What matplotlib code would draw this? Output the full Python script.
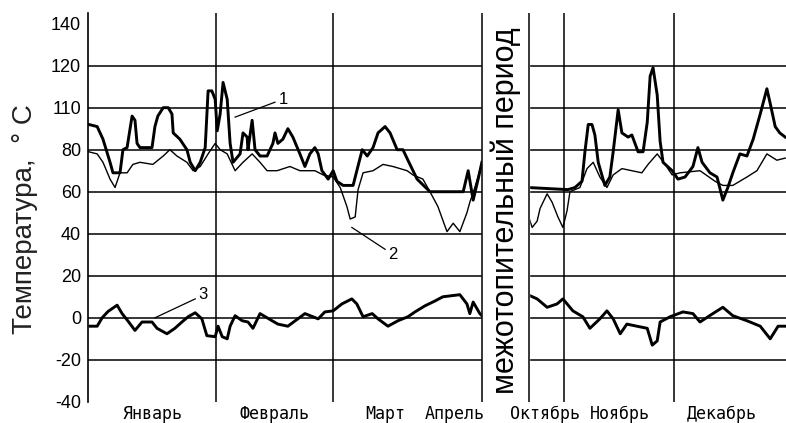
import matplotlib
matplotlib.use("Agg")
import matplotlib.pyplot as plt

# day index along the heating season (0 = start of January), left part Jan-Apr, right part Oct-Dec
s1_left_x = [0.2, 2.2, 3.6, 5.3, 6.0, 7.7, 8.4, 9.4, 10.6, 11.3, 11.8, 12.5, 15.4, 16.1, 16.8, 18.1,
             19.3, 20.2, 20.5, 22.1, 23.8, 24.6, 25.8, 27.0, 28.2, 28.9, 29.8, 30.6, 31.1, 31.8, 32.5,
             33.5, 34.2, 34.9, 36.6, 37.3, 38.3, 38.5, 39.5, 40.2, 41.4, 43.1, 44.5, 45.0, 45.7, 46.9,
             48.1, 49.3, 51.0, 52.2, 53.4, 54.6, 55.4, 56.3, 57.8, 59.0, 59.9, 61.4, 63.8, 64.7, 66.0,
             67.2, 68.6, 69.8, 71.5, 72.7, 74.4, 75.8, 77.0, 79.2, 82.3, 90.3, 91.5, 92.7, 93.9, 94.8]
s1_left_y = [92, 91, 85, 74, 69, 69, 80, 81, 96, 94, 83, 81, 81, 91, 96, 100,
             100, 97, 88, 85, 80, 74, 70, 74, 81, 108, 108, 104, 89, 97, 112,
             104, 83, 74, 78, 88, 86, 80, 94, 80, 77, 77, 83, 88, 83, 85,
             90, 86, 78, 72, 78, 81, 78, 70, 66, 70, 65, 63, 63, 70, 80,
             77, 81, 88, 91, 88, 80, 80, 75, 66, 60, 60, 70, 56, 66, 74]

s1_right_x = [105.9, 115.5, 117.2, 118.9, 119.6, 120.4, 121.3, 122.0, 122.8, 124.4, 125.6, 126.4,
              127.6, 128.5, 130.0, 130.9, 132.4, 133.6, 134.6, 135.3, 136.0, 137.0, 137.7, 138.4,
              140.6, 142.0, 143.7, 145.6, 146.8, 147.8, 149.7, 151.4, 152.8, 154.0, 155.2, 156.9,
              158.6, 160.1, 161.8, 163.4, 164.2, 165.4, 166.5, 167.8]
s1_right_y = [62, 61, 62, 65, 79, 92, 92, 87, 74, 63, 67, 79,
              99, 88, 86, 87, 79, 79, 93, 115, 119, 106, 84, 74,
              70, 66, 67, 72, 81, 74, 69, 67, 56, 62, 69, 78,
              77, 85, 97, 109, 102, 91, 88, 86]

s2_left_x = [0.2, 2.2, 3.6, 5.3, 6.5, 7.7, 9.4, 10.8, 12.5, 15.6, 18.1, 19.7, 21.4, 23.8, 25.3, 27.0,
             28.9, 30.6, 31.8, 33.5, 35.4, 37.3, 39.5, 41.4, 43.1, 45.5, 48.6, 51.0, 54.6, 56.6, 59.0,
             60.7, 62.3, 63.1, 64.3, 65.0, 66.2, 68.6, 71.0, 73.4, 76.8, 78.2, 80.6, 82.3, 84.2, 86.4,
             87.9, 89.5, 91.2, 91.9, 93.1, 94.3, 94.8]
s2_left_y = [79, 78, 74, 66, 62, 69, 69, 73, 74, 73, 77, 80, 77, 74, 70, 72,
             78, 83, 80, 78, 70, 74, 78, 74, 70, 70, 72, 70, 70, 68, 67,
             62, 53, 47, 48, 61, 69, 70, 73, 72, 70, 68, 66, 60, 53, 41,
             45, 41, 50, 55, 62, 70, 74]

s2_right_x = [105.9, 106.9, 108.1, 108.8, 110.5, 111.7, 113.1, 114.3, 115.3, 116.0, 118.4, 120.1,
              121.6, 123.2, 124.9, 126.4, 128.5, 130.9, 133.3, 134.8, 137.0, 138.9, 140.6, 142.5,
              147.3, 150.9, 152.8, 155.2, 158.6, 161.0, 163.4, 165.8, 167.8]
s2_right_y = [49, 43, 46, 52, 59, 55, 48, 43, 51, 60, 62, 71,
              74, 67, 62, 68, 71, 70, 69, 73, 78, 73, 68, 69,
              70, 65, 63, 63, 67, 70, 78, 75, 76]

s3_left_x = [0.5, 2.2, 3.4, 4.8, 7.0, 8.2, 9.6, 11.3, 13.0, 15.4, 16.6, 19.0, 20.9, 22.6, 24.1, 25.8,
             27.4, 28.6, 30.6, 31.3, 32.3, 33.5, 34.2, 35.4, 37.1, 38.5, 39.7, 41.4, 44.3, 45.7, 48.1,
             50.5, 52.2, 55.4, 57.0, 59.0, 61.1, 63.5, 64.7, 66.2, 68.4, 69.8, 72.2, 74.6, 77.0, 78.7,
             81.1, 83.5, 85.4, 89.5, 91.2, 91.9, 92.7, 94.3, 94.8]
s3_left_y = [-4, -4, 0, 3, 6, 2, -1.5, -6, -2, -2, -5, -7.6, -5, -2, 0.5, 2.4,
             -0.5, -8.5, -9, -4, -9, -10, -4, 1, -1.4, -2, -5, 2, -1.4, -3, -4,
             -0.5, 2, -0.5, 2.8, 3.3, 6.6, 9, 6.6, 0.5, 2, -0.5, -4, -1.4, 0.5, 2.8,
             5.7, 8, 10, 11, 6.6, 2, 7.5, 2, 1]

s3_right_x = [106.4, 108.1, 110.5, 112.9, 114.3, 116.7, 119.1, 120.8, 123.2, 124.9, 126.4, 128.1,
              129.7, 132.1, 134.6, 135.8, 137.0, 137.7, 140.1, 143.2, 145.6, 147.3, 150.4, 152.8,
              155.2, 158.6, 161.8, 164.2, 166.1, 167.8]
s3_right_y = [10.5, 9, 5, 6.6, 9, 3.3, 0.5, -5, -0.5, 3.3, -0.5, -7.6,
              -3, -4, -5, -13, -11, -2, 0.5, 2.8, 2, -2, 2, 5,
              1, -1.4, -4, -10, -4, -4]

month_names = ["Январь", "Февраль", "Март", "Апрель", "Октябрь", "Ноябрь", "Декабрь"]
month_pos = [15.4, 45.0, 71.5, 88.3, 110.0, 128.1, 152.6]
month_lines = [30.8, 59.0, 114.5, 141.1]
gap = (94.8, 106.1)

yticks = [-40, -20, 0, 20, 40, 60, 80, 100, 120, 140]
ytick_labels = ["-40", "-20", "0", "20", "40", "60", "80", "110", "120", "140"]

fig = plt.figure(figsize=(7.86, 4.23), dpi=100)
ax = fig.add_axes([0.112, 0.05, 0.888, 0.919])
ax.set_xlim(0, 168)
ax.set_ylim(-40, 145)

for v in [-20, 0, 20, 40, 60, 80, 100, 120]:
    ax.axhline(v, color="black", lw=1.1, zorder=1)
for v in month_lines:
    ax.axvline(v, color="black", lw=1.1, zorder=1)

ax.plot(s2_left_x, s2_left_y, color="black", lw=1.0, zorder=3)
ax.plot(s2_right_x, s2_right_y, color="black", lw=1.0, zorder=3)
ax.plot(s1_left_x, s1_left_y, color="black", lw=2.1, zorder=4)
ax.plot(s1_right_x, s1_right_y, color="black", lw=2.1, zorder=4)
ax.plot(s3_left_x, s3_left_y, color="black", lw=2.1, zorder=4)
ax.plot(s3_right_x, s3_right_y, color="black", lw=2.1, zorder=4)

# inter-heating gap
ax.axvspan(gap[0], gap[1], color="white", zorder=5)
for v in gap:
    ax.axvline(v, color="black", lw=1.1, zorder=6)
ax.text(sum(gap) / 2, 51, "межотопительный период", rotation=90, ha="center", va="center",
        fontsize=22, family="Liberation Sans", zorder=7)

# series labels
ax.plot([35.4, 45.0], [95.5, 102.6], color="black", lw=0.9, zorder=6)
ax.text(46.0, 104, "1", fontsize=12, family="Liberation Sans", va="center")
ax.plot([63.5, 71.5], [43, 32.6], color="black", lw=0.9, zorder=6)
ax.text(72.2, 30, "2", fontsize=12, family="Liberation Sans", va="center")
ax.plot([16.1, 25.8], [0, 9], color="black", lw=0.9, zorder=6)
ax.text(26.5, 11, "3", fontsize=12, family="Liberation Sans", va="center")

for name, pos in zip(month_names, month_pos):
    ax.text(pos, -41.5, name, ha="center", va="top", fontsize=12, family="DejaVu Sans Mono")

ax.set_yticks(yticks)
ax.set_yticklabels(ytick_labels, family="Liberation Sans", fontsize=13)
ax.set_xticks([])
ax.tick_params(axis="y", length=0, pad=5)
for side in ["top", "right", "bottom"]:
    ax.spines[side].set_visible(False)
ax.spines["left"].set_linewidth(1.2)

ax.set_ylabel("Температура,  ° С", fontsize=20, family="Liberation Sans", color="#222222")
ax.yaxis.set_label_coords(-0.072, 0.47)

fig.savefig("out.png", dpi=100)
